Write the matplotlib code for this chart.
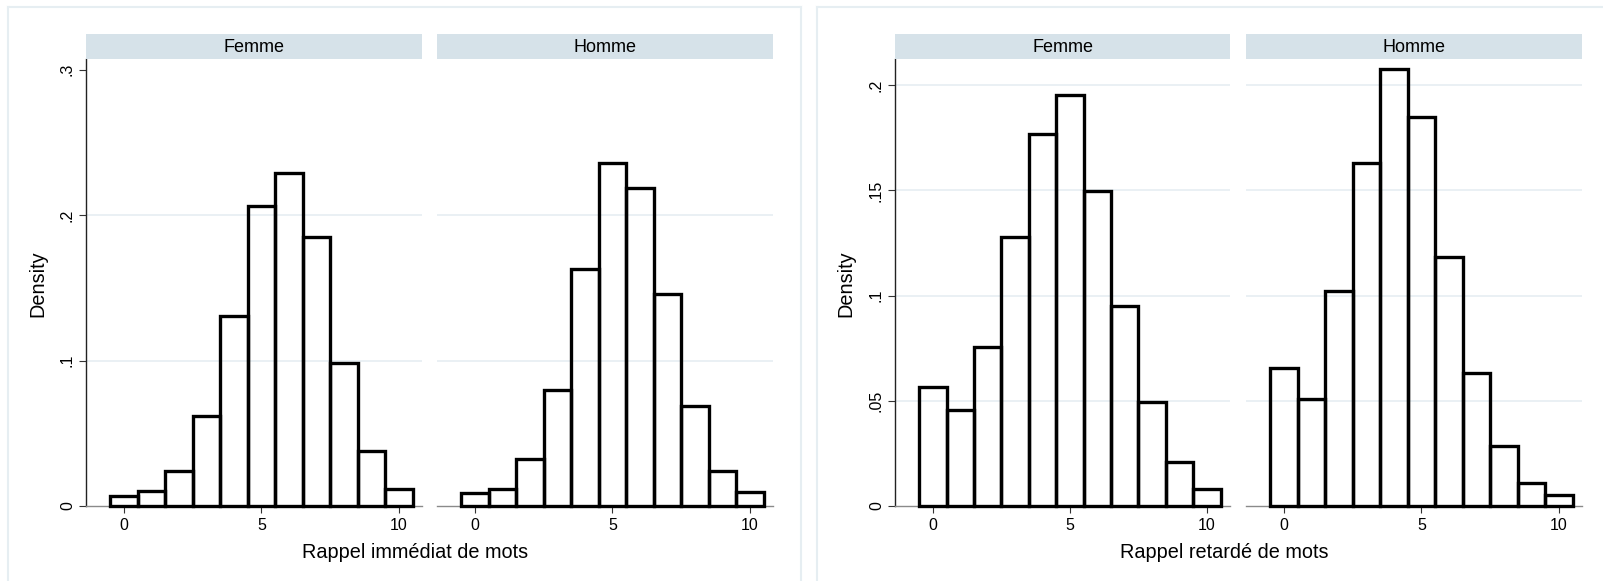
import matplotlib
matplotlib.use("Agg")
import matplotlib.pyplot as plt
from matplotlib.lines import Line2D

plt.rcParams['font.family'] = ['Liberation Sans', 'DejaVu Sans']

# ---------------- data ----------------
bins = [0, 1, 2, 3, 4, 5, 6, 7, 8, 9, 10]
groups = ["Femme", "Homme"]
imm_femme = [0.007, 0.010, 0.024, 0.062, 0.131, 0.206, 0.229, 0.185, 0.098, 0.0375, 0.012]
imm_homme = [0.009, 0.012, 0.032, 0.080, 0.163, 0.236, 0.219, 0.146, 0.069, 0.024, 0.0097]
ret_femme = [0.0566, 0.0454, 0.0758, 0.1277, 0.177, 0.1953, 0.1497, 0.0949, 0.0494, 0.0209, 0.0082]
ret_homme = [0.0657, 0.051, 0.102, 0.163, 0.2077, 0.185, 0.1185, 0.063, 0.0286, 0.011, 0.005]
xticks = [0, 5, 10]
imm_yticks = [0, 0.1, 0.2, 0.3]
imm_ylabels = ["0", ".1", ".2", ".3"]
ret_yticks = [0, 0.05, 0.1, 0.15, 0.2]
ret_ylabels = ["0", ".05", ".1", ".15", ".2"]
imm_xlabel = "Rappel immédiat de mots"
ret_xlabel = "Rappel retardé de mots"
ylabel = "Density"

# ---------------- layout ----------------
W, H = 1603, 581
fig = plt.figure(figsize=(W / 100, H / 100), dpi=100)
fig.patch.set_facecolor("white")

STRIP = "#d6e2e9"
BORDER = "#e6eef2"
GRID = "#e6eef2"

def rect(x0, y0, x1, y1):
    return [x0 / W, 1 - y1 / H, (x1 - x0) / W, (y1 - y0) / H]

def fline(xs, ys, color, lw=1.0):
    fig.add_artist(Line2D([x / W for x in xs], [1 - y / H for y in ys],
                          transform=fig.transFigure, color=color, lw=lw))

# panel borders
fline([8, 8], [7, 581], BORDER, 1.5)
fline([8, 801], [7, 7], BORDER, 1.5)
fline([801, 801], [7, 581], BORDER, 1.5)
fline([817, 817], [7, 581], BORDER, 1.5)
fline([817, 1603], [7, 7], BORDER, 1.5)

XLIM = (-1.38, 10.84)
TOP, BOT, STRIP_TOP = 59, 506, 34

def facet(x0, x1, heights, ylim, yticks, ylabels, grid_vals, title, first):
    ax = fig.add_axes(rect(x0, TOP, x1, BOT))
    ax.set_xlim(*XLIM)
    ax.set_ylim(*ylim)
    ax.set_facecolor("none")
    for g in grid_vals:
        ax.axhline(g, color=GRID, lw=1.2, zorder=0)
    ax.bar(bins, heights, width=1.0, facecolor="none", edgecolor="black",
           linewidth=2.4, zorder=3, clip_on=False)
    for s in ["top", "right"]:
        ax.spines[s].set_visible(False)
    ax.spines["bottom"].set_color("#8a8a8a")
    ax.spines["bottom"].set_linewidth(1.0)
    ax.set_xticks(xticks)
    ax.set_xticklabels([str(v) for v in xticks])
    ax.tick_params(axis="x", direction="out", length=5, width=0.8,
                   color="#333333", labelsize=11.5, pad=4)
    if first:
        ax.spines["left"].set_color("#222222")
        ax.spines["left"].set_linewidth(1.0)
        ax.set_yticks(yticks)
        ax.set_yticklabels(ylabels, rotation=90, va="center")
        ax.tick_params(axis="y", direction="out", length=5, width=0.8,
                       color="#333333", labelsize=11.5, pad=3)
    else:
        ax.spines["left"].set_visible(False)
        ax.set_yticks([])
    sax = fig.add_axes(rect(x0, STRIP_TOP, x1, TOP))
    sax.set_facecolor(STRIP)
    sax.set_xticks([]); sax.set_yticks([])
    for s in sax.spines.values():
        s.set_visible(False)
    sax.text(0.5, 0.45, title, ha="center", va="center", fontsize=13,
             transform=sax.transAxes)
    return ax

# left panel: immediate recall
facet(86, 422, imm_femme, (0, 0.3074), imm_yticks, imm_ylabels, [0.1, 0.2], groups[0], True)
facet(437, 773, imm_homme, (0, 0.3074), imm_yticks, imm_ylabels, [0.1, 0.2], groups[1], False)
# right panel: delayed recall
facet(895, 1230, ret_femme, (0, 0.2125), ret_yticks, ret_ylabels, [0.05, 0.1, 0.15, 0.2], groups[0], True)
facet(1246, 1582, ret_homme, (0, 0.2125), ret_yticks, ret_ylabels, [0.05, 0.1, 0.15, 0.2], groups[1], False)

# axis titles
fig.text(415 / W, 1 - 558 / H, imm_xlabel, ha="center", va="baseline", fontsize=14.3)
fig.text(1224 / W, 1 - 558 / H, ret_xlabel, ha="center", va="baseline", fontsize=14.3)
fig.text(38 / W, 1 - 284 / H, ylabel, ha="center", va="center", rotation=90, fontsize=14.3)
fig.text(846 / W, 1 - 284 / H, ylabel, ha="center", va="center", rotation=90, fontsize=14.3)

fig.savefig("out.png", dpi=100, facecolor="white")
